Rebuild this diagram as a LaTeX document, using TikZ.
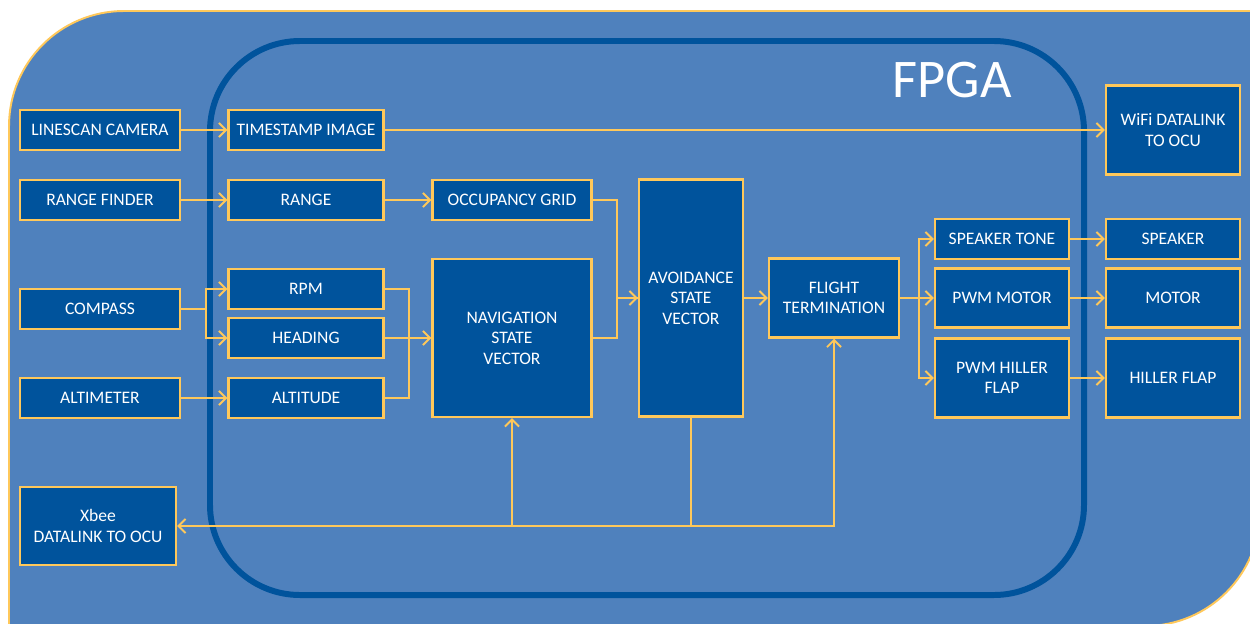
\documentclass[tikz,border=0pt]{standalone}
\usepackage{fontspec}
\setmainfont{Carlito}
\usetikzlibrary{calc}
\usetikzlibrary{arrows.meta}
\definecolor{outerblue}{RGB}{79,129,189}
\definecolor{boxblue}{RGB}{0,83,156}
\definecolor{wireyel}{RGB}{255,200,90}

\begin{document}
\begin{tikzpicture} [x=0.02cm, y=-0.02cm,
 blk/.style={draw=wireyel, fill=boxblue, text=white, line width=1.4pt, align=center, inner sep=0pt,
  font=\fontsize{10}{11.6}\selectfont},
 sz/.style 2 args={minimum width=#1*0.02cm, minimum height=#2*0.02cm},
 wire/.style={wireyel, line width=1.1pt},
 arr/.style={wire, -{Straight Barb[length=4pt,width=8pt,line width=1.1pt]}}]
\useasboundingbox (0,0) rectangle (1250,623);
\draw[fill=outerblue, draw=wireyel, line width=1.1pt] (1270,11) -- (124,11) arc[start angle=90, end angle=180, radius=2.3cm]
 -- (9,626) -- (1145,626) arc[start angle=270, end angle=360, radius=2.3cm] -- (1260,11) -- cycle;
\draw[boxblue, line width=3.4pt, rounded corners=1.8cm] (210,41) rectangle (1084,595);
\node[text=white, font=\fontsize{31}{31}\selectfont] (fpga) at (952,80) {FPGA};

\node[blk, sz={160}{40}] (lcam) at (100,130) {LINESCAN CAMERA};
\node[blk, sz={160}{40}] (rfind) at (100,200) {RANGE FINDER};
\node[blk, sz={160}{40}] (comp) at (100,309) {COMPASS};
\node[blk, sz={160}{40}] (alt) at (100,398) {ALTIMETER};
\node[blk, sz={156}{78}] (xbee) at (98,526) {Xbee\\DATALINK TO OCU};

\node[blk, sz={155}{40}] (tstamp) at (306,130) {TIMESTAMP IMAGE};
\node[blk, sz={155}{40}] (range) at (306,200) {RANGE};
\node[blk, sz={155}{40}] (rpm) at (306,289) {RPM};
\node[blk, sz={155}{40}] (head) at (306,338) {HEADING};
\node[blk, sz={155}{40}] (altd) at (306,398) {ALTITUDE};

\node[blk, sz={159}{40}] (occ) at (512,200) {OCCUPANCY GRID};
\node[blk, sz={159}{158}] (nav) at (512,338) {NAVIGATION\\STATE\\VECTOR};
\node[blk, sz={104}{237}] (avoid) at (691,298) {AVOIDANCE\\STATE\\VECTOR};
\node[blk, sz={130}{79}] (flight) at (834,298) {FLIGHT\\TERMINATION};

\node[blk, sz={134}{40}] (spkt) at (1002,239) {SPEAKER TONE};
\node[blk, sz={134}{59}] (pwmm) at (1002,298) {PWM MOTOR};
\node[blk, sz={134}{79}] (pwmh) at (1002,378) {PWM HILLER\\FLAP};

\node[blk, sz={134}{89}] (wifi) at (1173,130) {WiFi DATALINK\\TO OCU};
\node[blk, sz={134}{40}] (spk) at (1173,239) {SPEAKER};
\node[blk, sz={134}{59}] (motor) at (1173,298) {MOTOR};
\node[blk, sz={134}{79}] (hiller) at (1173,378) {HILLER FLAP};

\draw[arr] (lcam) -- (tstamp);
\draw[arr] (tstamp) -- (wifi);
\draw[arr] (rfind) -- (range);
\draw[arr] (range) -- (occ);
\draw[arr] (alt) -- (altd);
\foreach \t in {rpm,head}
 \draw[arr] (comp.east) -- ++(25,0) |- (\t.west);
\draw[wire] (rpm.east) -- ++(24,0) |- (altd.east);
\draw[arr] (head.east) -- (head.east -| nav.west);
\draw[wire] (nav.east) -- ++(24,0) |- (avoid.west);
\draw[arr] (occ.east) -- ++(24,0) |- (avoid.west);
\draw[arr] (avoid) -- (flight);
\foreach \t in {spkt,pwmm,pwmh}
 \draw[arr] (flight.east) -- ++(19,0) |- (\t.west);
\foreach \a/\b in {spkt/spk,pwmm/motor,pwmh/hiller}
 \draw[arr] (\a) -- (\b);

\coordinate (bus) at (691,526);
\draw[wire] (avoid.south) -- (bus);
\draw[arr] (bus) -- (bus -| xbee.east);
\draw[arr] (bus -| nav.south) -- (nav.south);
\draw[arr] (bus) -| (flight.south);
\end{tikzpicture}
\end{document}
